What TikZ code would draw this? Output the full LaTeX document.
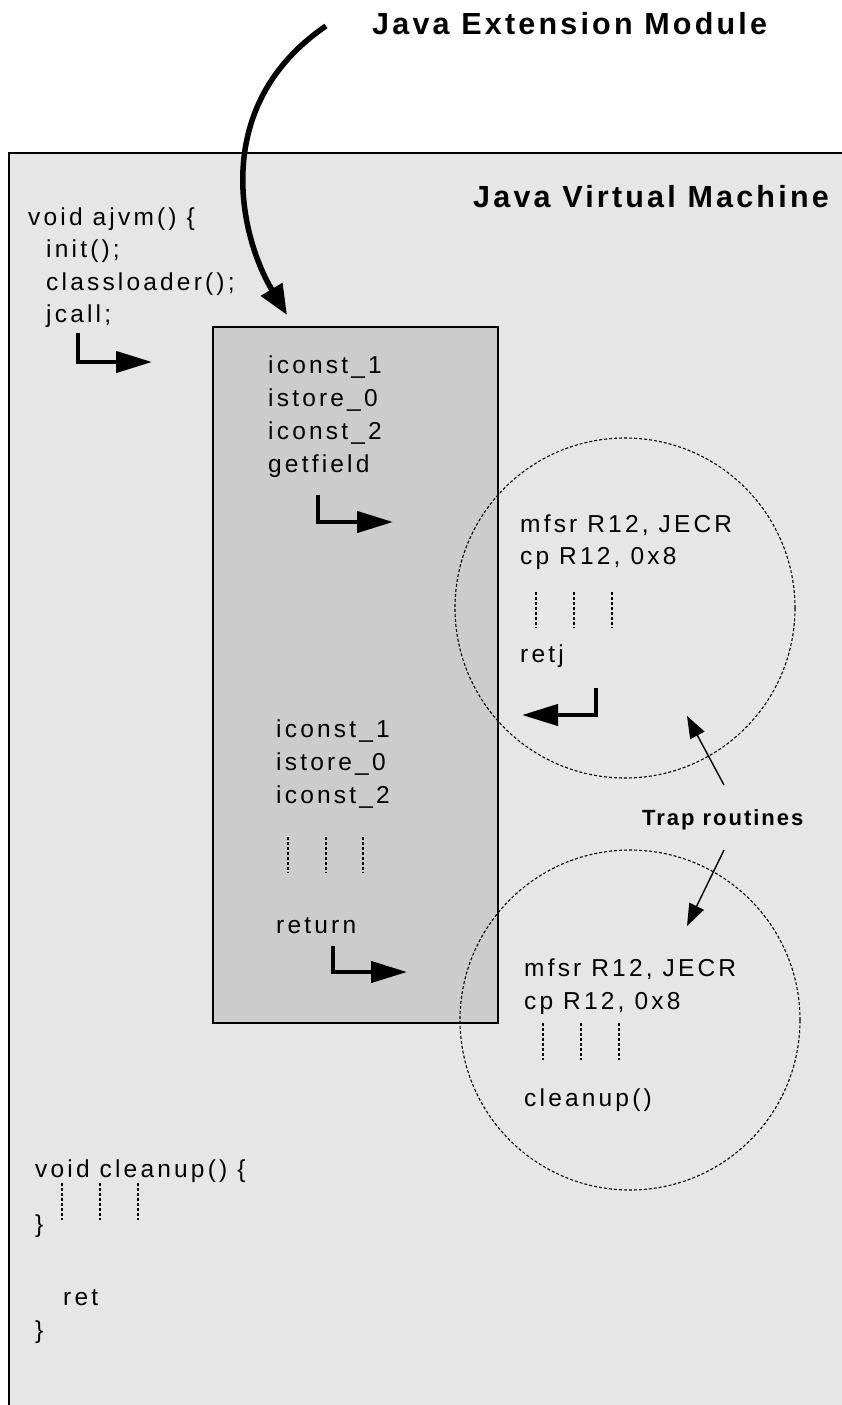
\documentclass[tikz,border=0pt]{standalone}
\usepackage{fontspec}
\setmainfont{Liberation Sans}
\newfontfamily\bodyf[LetterSpace=13]{Liberation Sans}
\newfontfamily\titlef[LetterSpace=10.5]{Liberation Sans}
\newfontfamily\trapf[LetterSpace=9]{Liberation Sans}
\usetikzlibrary{arrows.meta}
\definecolor{outerfill}{HTML}{E6E6E6}
\definecolor{innerfill}{HTML}{CCCCCC}
\tikzset{
  code/.style={inner sep=0pt, anchor=base west, font=\bodyf\fontsize{24.5}{29}\selectfont},
  heading/.style={inner sep=0pt, anchor=base west, font=\titlef\bfseries\fontsize{30.5}{36}\selectfont},
  traplabel/.style={inner sep=0pt, anchor=base west, font=\trapf\bfseries\fontsize{22}{26}\selectfont},
  bent/.style={line width=4.3pt, line join=miter, -{Triangle[length=36pt,width=21pt]}},
  dots/.style={line width=1.1pt, dash pattern=on 3pt off 2pt},
  trapcirc/.style={draw, circle, line width=1.1pt, dash pattern=on 3pt off 2pt, minimum size=340pt, inner sep=0pt},
  callout/.style={line width=1.4pt, -{Triangle[length=22pt,width=16pt]}},
  bigarrow/.style={line width=5.5pt, -{Triangle[length=30pt,width=24pt]}}
}
\begin{document}
\begin{tikzpicture}[x=1pt,y=-1pt]
\useasboundingbox (0,0) rectangle (842,1405);
\clip (0,0) rectangle (842,1405);
% outer JVM area
\draw[fill=outerfill, line width=1.5pt] (9,153) rectangle (870,1430);
% inner module block
\draw[fill=innerfill, line width=1.8pt] (213,327) rectangle (498,1023);
% trap routine circles
\node[trapcirc] (c1) at (625,608) {};
\node[trapcirc] (c2) at (630,1020) {};

% headings
\node[heading] (jem) at (372,35) {Java Extension Module};
\node[heading] (jvm) at (473,207) {Java Virtual Machine};

% ajvm code
\node[code] (l1) at (28,225) {void ajvm() \{};
\node[code] (l2) at (46,257.5) {init();};
\node[code] (l3) at (46,290) {classloader();};
\node[code] (l4) at (46,322.5) {jcall;};

% block code upper
\node[code] (b1) at (268,373) {iconst\_1};
\node[code] (b2) at (268,406) {istore\_0};
\node[code] (b3) at (268,439) {iconst\_2};
\node[code] (b4) at (268,472) {getfield};

% block code lower
\node[code] (b5) at (276,737) {iconst\_1};
\node[code] (b6) at (276,770) {istore\_0};
\node[code] (b7) at (276,803) {iconst\_2};
\node[code] (b8) at (276,933) {return};
\draw[dots] (288,837) -- (288,873);
\draw[dots] (326,837) -- (326,873);
\draw[dots] (363,837) -- (363,873);

% trap 1 text
\node[code] (t1) at (520,532) {mfsr R12, JECR};
\node[code] (t2) at (520,564) {cp R12, 0x8};
\node[code] (t3) at (520,662) {retj};
\draw[dots] (536,592) -- (536,628);
\draw[dots] (574,592) -- (574,628);
\draw[dots] (612,592) -- (612,628);

% trap 2 text
\node[code] (u1) at (524,976) {mfsr R12, JECR};
\node[code] (u2) at (524,1009) {cp R12, 0x8};
\node[code] (u3) at (524,1106) {cleanup()};
\draw[dots] (543,1023) -- (543,1060);
\draw[dots] (581,1023) -- (581,1060);
\draw[dots] (619,1023) -- (619,1060);

% cleanup code
\node[code] (k1) at (35,1177) {void cleanup() \{};
\node[code] (k2) at (35,1232) {\}};
\node[code] (k3) at (63,1305) {ret};
\node[code] (k4) at (35,1338) {\}};
\draw[dots] (62,1183) -- (62,1220);
\draw[dots] (100,1183) -- (100,1220);
\draw[dots] (138,1183) -- (138,1220);

% trap label
\node[traplabel] (trap) at (642,825) {Trap routines};

% coordinates for arrows
\coordinate (a1s) at (78,333);  \coordinate (a1e) at (152,362);
\coordinate (a2s) at (318,495); \coordinate (a2e) at (393,522);
\coordinate (a3s) at (596,688); \coordinate (a3e) at (522,715);
\coordinate (a4s) at (333,946); \coordinate (a4e) at (407,972);
\coordinate (tu) at (724,785);  \coordinate (tut) at (687,716);
\coordinate (td) at (724,850);  \coordinate (tdt) at (687,926);
\coordinate (bs) at (326,26);   \coordinate (be) at (287,315);

\draw[bent] (a1s) |- (a1e);
\draw[bent] (a2s) |- (a2e);
\draw[bent] (a3s) |- (a3e);
\draw[bent] (a4s) |- (a4e);

\draw[callout] (tu) -- (tut);
\draw[callout] (td) -- (tdt);

\draw[bigarrow] (bs) .. controls (210,105) and (239,235) .. (be);
\end{tikzpicture}
\end{document}
